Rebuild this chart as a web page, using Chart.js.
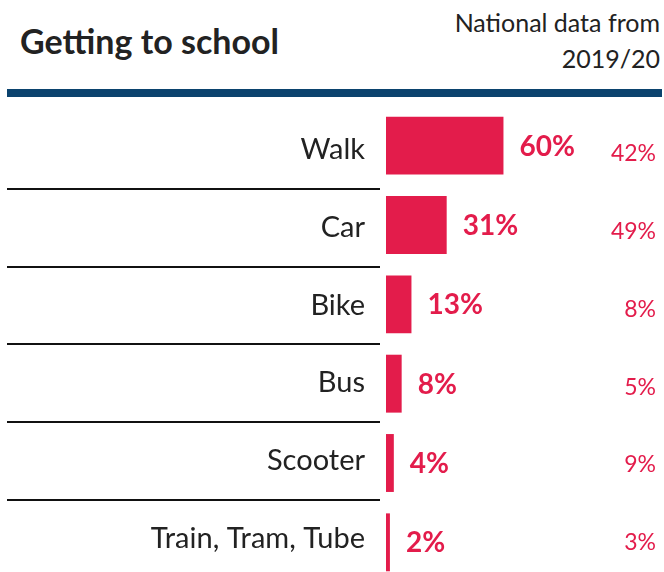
<!DOCTYPE html>
<html>
<head>
<meta charset="utf-8">
<script src="https://cdn.jsdelivr.net/npm/chart.js@4/dist/chart.umd.min.js"></script>
<style>
  html, body { margin: 0; padding: 0; background: #fff; overflow: hidden; }
  #wrap { position: relative; width: 664px; height: 572px; overflow: hidden; font-family: Lato, sans-serif; }
  #title { position: absolute; left: 20px; top: 21px; font-size: 34px; font-weight: 700; color: #222; line-height: 40px; }
  #subtitle { position: absolute; right: 4px; top: 4px; font-size: 25px; color: #222; text-align: right; line-height: 36px; }
  #rule { position: absolute; left: 7px; right: 2px; top: 89px; height: 8px; background: #0b436e; }
  canvas { position: absolute; left: 0; top: 0; }
</style>
</head>
<body>
<div id="wrap">
  <div id="title">Getting to school</div>
  <div id="subtitle">National data from<br>2019/20</div>
  <div id="rule"></div>
  <canvas id="schoolChart" width="664" height="590"></canvas>
</div>
<script>
// Getting to school chart

// Data
const modes = ['Walk', 'Car', 'Bike', 'Bus', 'Scooter', 'Train, Tram, Tube'];
const schoolShare = [60, 31, 13, 8, 4, 2];
const nationalShare = [42, 49, 8, 5, 9, 3];

const barColor = '#e31c4b';

// Separator lines between categories, drawn on the label side only
const separatorPlugin = {
    id: 'separators',
    afterDraw(chart) {
        const ctx = chart.ctx;
        const labelScale = chart.scales.yLabels;
        ctx.save();
        ctx.strokeStyle = '#111';
        ctx.lineWidth = 2;
        for (let i = 0; i < modes.length - 1; i++) {
            const y = Math.round(labelScale.getPixelForValue(i + 0.5));
            ctx.beginPath();
            ctx.moveTo(7, y);
            ctx.lineTo(380, y);
            ctx.stroke();
        }
        ctx.restore();
    }
};

// Value labels next to each bar, plus national figures on the right
const valueLabelPlugin = {
    id: 'valueLabels',
    afterDatasetsDraw(chart) {
        const ctx = chart.ctx;
        const meta = chart.getDatasetMeta(0);
        const labelScale = chart.scales.yLabels;
        ctx.save();
        ctx.fillStyle = barColor;
        ctx.textBaseline = 'middle';
        meta.data.forEach((bar, i) => {
            ctx.font = 'bold 28px Lato';
            ctx.textAlign = 'left';
            ctx.fillText(schoolShare[i] + '%', bar.x + 16, bar.y + 1);

            ctx.font = '23px Lato';
            ctx.textAlign = 'right';
            ctx.fillText(nationalShare[i] + '%', 656, labelScale.getPixelForValue(i) + 4);
        });
        ctx.restore();
    }
};

new Chart(document.getElementById('schoolChart'), {
    type: 'bar',
    data: {
        labels: modes,
        datasets: [{
            label: 'Getting to school',
            data: schoolShare,
            backgroundColor: barColor,
            borderWidth: 0,
            barPercentage: 0.73,
            categoryPercentage: 1
        }]
    },
    options: {
        indexAxis: 'y',
        responsive: false,
        animation: false,
        devicePixelRatio: 1,
        layout: {
            padding: { top: 106, bottom: 8, left: 0, right: 0 }
        },
        plugins: {
            legend: { display: false },
            tooltip: { enabled: false }
        },
        scales: {
            x: {
                display: false,
                min: 0,
                max: 142
            },
            y: {
                display: false
            },
            // label column: rows are a little tighter than the bars
            yLabels: {
                type: 'linear',
                position: 'left',
                reverse: true,
                offset: false,
                min: -0.566,
                max: 5.56,
                afterBuildTicks(scale) {
                    scale.ticks = modes.map((m, i) => ({ value: i }));
                },
                afterFit(scale) {
                    scale.width = 386;
                    scale.paddingTop = 0;
                    scale.paddingBottom = 0;
                },
                grid: { display: false, drawTicks: false },
                border: { display: false },
                ticks: {
                    autoSkip: false,
                    color: '#222',
                    padding: 21,
                    font: { family: 'Lato', size: 29 },
                    callback: function(value) {
                        return modes[value];
                    }
                }
            }
        }
    },
    plugins: [separatorPlugin, valueLabelPlugin]
});
</script>
</body>
</html>
